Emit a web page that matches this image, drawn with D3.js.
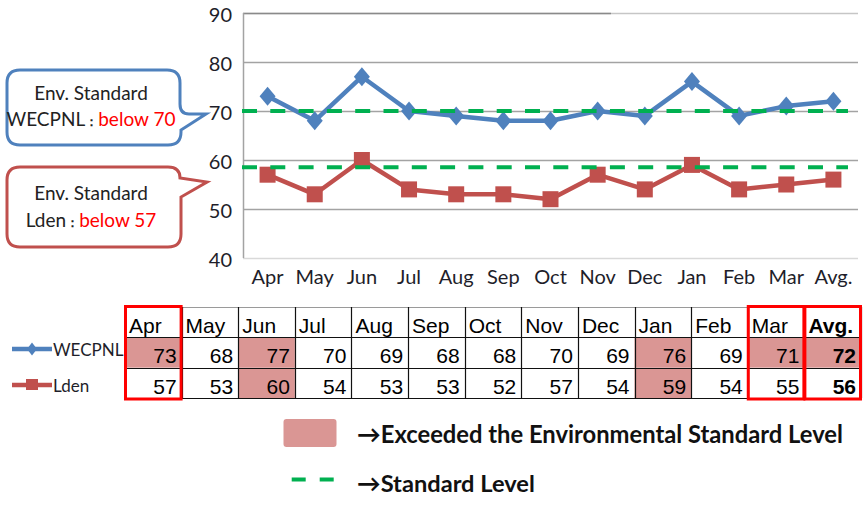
<!DOCTYPE html>
<html><head><meta charset="utf-8">
<script src="https://cdn.jsdelivr.net/npm/d3@7"></script>
<style>body{margin:0;background:#fff} svg{display:block}</style>
</head><body>
<svg id="c" width="864" height="510"></svg>
<script>
// ---- data ----
const months = ["Apr","May","Jun","Jul","Aug","Sep","Oct","Nov","Dec","Jan","Feb","Mar","Avg."];
const wecpnl = [73,68,77,70,69,68,68,70,69,76,69,71,72];
const lden   = [57,53,60,54,53,53,52,57,54,59,54,55,56];
const yTicks = [40,50,60,70,80,90];
const seriesNames = ["WECPNL","Lden"];
const envStandards = [70, 57];          // cells above these are shaded
const standardLines = [70, 58.5];       // green dashed lines as drawn in the chart
const outlinedCols = ["Apr","Mar","Avg."];
const legendTexts = ["\u2192Exceeded the Environmental Standard Level","\u2192Standard Level"];

// ---- styles ----
const BLUE = "#4F81BD", RED = "#C0504D", GREEN = "#00B050", PINK = "#DA9694";
const FONT = "Lato, 'Open Sans', sans-serif";
const TFONT = "'Liberation Sans', Arial, sans-serif";

const svg = d3.select("#c");
const x = d3.scaleBand().domain(months).range([244, 857]);
const y = d3.scaleLinear().domain([40, 90]).range([258, 13]);
const cx = m => x(m) + x.bandwidth() / 2;

// gridlines
const [x0, x1] = [243, 858];
svg.append("g").selectAll("line").data(yTicks).join("line")
  .attr("x1", x0).attr("x2", x1)
  .attr("y1", d => Math.round(y(d)) + 0.5).attr("y2", d => Math.round(y(d)) + 0.5)
  .attr("stroke", d => d === 40 ? "#d9d9d9" : (d === 90 ? "#c6c6c6" : "#a3a3a3"))
  .attr("stroke-width", 1.5);
svg.append("line").attr("x1", x0).attr("x2", 611)
  .attr("y1", Math.round(y(90)) + 0.5).attr("y2", Math.round(y(90)) + 0.5)
  .attr("stroke", "#8a8a8a").attr("stroke-width", 1.5);
svg.append("line").attr("x1", x0 + 0.5).attr("x2", x0 + 0.5)
  .attr("y1", y(90)).attr("y2", y(40)).attr("stroke", "#a3a3a3").attr("stroke-width", 1.5);

// y axis labels
const ya = svg.append("g").attr("transform", `translate(${x0},0)`)
  .call(d3.axisLeft(y).tickValues(yTicks).tickSize(0).tickPadding(11));
ya.select(".domain").remove();
ya.selectAll("text").attr("font-family", FONT).attr("font-size", 20).attr("fill", "#1e1e2a").attr("dy", "0.4em");

// x axis labels
const xa = svg.append("g").attr("transform", `translate(0,${y(40)})`)
  .call(d3.axisBottom(x).tickSize(0).tickPadding(9));
xa.select(".domain").remove();
xa.selectAll("text").attr("font-family", FONT).attr("font-size", 20).attr("fill", "#1e1e2a").attr("dy", "0.85em");

// series lines
const line = d3.line().x((d, i) => cx(months[i])).y(d => y(d));
svg.append("path").datum(wecpnl).attr("d", line).attr("fill", "none")
  .attr("stroke", BLUE).attr("stroke-width", 4.5).attr("stroke-linejoin", "round");
svg.append("path").datum(lden).attr("d", line).attr("fill", "none")
  .attr("stroke", RED).attr("stroke-width", 4.5).attr("stroke-linejoin", "round");

// markers
const diamond = (w, h) => `M0,${-h}L${w},0L0,${h}L${-w},0Z`;
svg.append("g").selectAll("path").data(wecpnl).join("path")
  .attr("d", diamond(8, 9.5))
  .attr("transform", (d, i) => `translate(${cx(months[i])},${y(d)})`)
  .attr("fill", BLUE);
svg.append("g").selectAll("rect").data(lden).join("rect")
  .attr("x", (d, i) => cx(months[i]) - 8).attr("y", d => y(d) - 8)
  .attr("width", 16).attr("height", 16).attr("fill", RED);

// standard level dashed lines
svg.append("g").selectAll("line").data(standardLines).join("line")
  .attr("x1", 242).attr("x2", 848)
  .attr("y1", d => y(d)).attr("y2", d => y(d))
  .attr("stroke", GREEN).attr("stroke-width", 4).attr("stroke-dasharray", "15,13.3");

// callouts
const callouts = [
  { color: BLUE, d: "M20,70H167Q180,70 180,83V104Q180,114 189,114L206,114L181,130V132Q181,145 168,145H20Q7,145 7,132V83Q7,70 20,70Z",
    y1: 100, y2: 126, name: seriesNames[0], val: envStandards[0] },
  { color: RED, d: "M20,167H168Q180,167 180,178L207,182L181,197V234Q181,247 168,247H20Q7,247 7,234V180Q7,167 20,167Z",
    y1: 200, y2: 227, name: seriesNames[1], val: envStandards[1] }
];
callouts.forEach(c => {
  svg.append("path").attr("d", c.d).attr("fill", "#fff").attr("stroke", c.color).attr("stroke-width", 3);
  svg.append("text").attr("x", 91).attr("y", c.y1).attr("text-anchor", "middle")
    .attr("font-family", FONT).attr("font-size", 19).attr("fill", "#222").text("Env. Standard");
  const t = svg.append("text").attr("x", 91).attr("y", c.y2).attr("text-anchor", "middle")
    .attr("font-family", FONT).attr("font-size", 19).attr("fill", "#222");
  t.append("tspan").text(c.name);
  t.append("tspan").attr("font-size", 13).attr("font-weight", "bold").text("\uFF1A");
  t.append("tspan").attr("fill", "#FF0000").text("below " + c.val);
});

// ---- table ----
const tx = d3.scaleBand().domain(months).range([125, 861]);
const ty = d3.scaleBand().domain(["head"].concat(seriesNames)).range([307, 398]);
const rows = [wecpnl, lden];
const tbl = svg.append("g");
// shaded cells
rows.forEach((vals, r) => {
  tbl.append("g").selectAll("rect").data(vals.map((v, i) => ({ v, m: months[i] })).filter(d => d.v > envStandards[r]))
    .join("rect")
    .attr("x", d => tx(d.m)).attr("y", ty(seriesNames[r]))
    .attr("width", tx.bandwidth()).attr("height", ty.bandwidth()).attr("fill", PINK);
});
// grid
tbl.append("line").attr("x1", tx.range()[0]).attr("x2", tx.range()[1])
  .attr("y1", ty.range()[0] + 0.5).attr("y2", ty.range()[0] + 0.5).attr("stroke", "#9a9a9a");
tbl.append("g").selectAll("line").data(seriesNames.map(s => ty(s)).concat([ty.range()[1]])).join("line")
  .attr("x1", tx.range()[0]).attr("x2", tx.range()[1])
  .attr("y1", d => Math.round(d) + 0.5).attr("y2", d => Math.round(d) + 0.5)
  .attr("stroke", "#111").attr("stroke-width", 1.2);
tbl.append("g").selectAll("line").data(months.map(m => tx(m)).concat([tx.range()[1]])).join("line")
  .attr("x1", d => Math.round(d) + 0.5).attr("x2", d => Math.round(d) + 0.5)
  .attr("y1", ty.range()[0]).attr("y2", ty.range()[1])
  .attr("stroke", "#111").attr("stroke-width", 1.2);
// header texts
tbl.append("g").selectAll("text").data(months).join("text")
  .attr("x", m => tx(m) + 4).attr("y", ty("head") + 26)
  .attr("font-family", TFONT).attr("font-size", 21)
  .attr("font-weight", m => m === "Avg." ? "bold" : "normal")
  .attr("fill", "#000").text(m => m);
// values
rows.forEach((vals, r) => {
  tbl.append("g").selectAll("text").data(vals).join("text")
    .attr("x", (d, i) => tx(months[i]) + tx.bandwidth() - 5)
    .attr("y", ty(seriesNames[r]) + 26)
    .attr("text-anchor", "end")
    .attr("font-family", TFONT).attr("font-size", 21)
    .attr("font-weight", (d, i) => months[i] === "Avg." ? "bold" : "normal")
    .attr("fill", "#000").text(d => d);
});
// red outlines
tbl.append("g").selectAll("rect").data(outlinedCols).join("rect")
  .attr("x", m => tx(m) + 0.5).attr("y", ty.range()[0] - 0.5)
  .attr("width", tx.bandwidth() - 1).attr("height", ty.range()[1] - ty.range()[0] + 1.5)
  .attr("fill", "none").attr("stroke", "#FF0000").attr("stroke-width", 3);

// table legend (left)
const lg = svg.append("g");
[[BLUE, 349], [RED, 385]].forEach(([col, yy], r) => {
  lg.append("line").attr("x1", 12).attr("x2", 52).attr("y1", yy).attr("y2", yy)
    .attr("stroke", col).attr("stroke-width", 4.5);
  if (r === 0) lg.append("path").attr("d", diamond(5, 6.5)).attr("transform", `translate(32,${yy})`).attr("fill", col);
  else lg.append("rect").attr("x", 26).attr("y", yy - 6).attr("width", 12).attr("height", 11).attr("fill", col);
  lg.append("text").attr("x", 53).attr("y", yy + 7).attr("font-family", FONT).attr("font-size", 17)
    .attr("fill", "#1e1e2a").text(seriesNames[r]);
});

// bottom legend
svg.append("rect").attr("x", 283.5).attr("y", 419).attr("width", 53).attr("height", 28).attr("rx", 3)
  .attr("fill", PINK);
svg.append("line").attr("x1", 291.7).attr("x2", 334).attr("y1", 479.5).attr("y2", 479.5)
  .attr("stroke", GREEN).attr("stroke-width", 4).attr("stroke-dasharray", "14,14");
const fitW = [486, 178];
[443, 492].forEach((yy, i) => {
  const t = svg.append("text").attr("x", 357).attr("y", yy).attr("font-family", FONT)
    .attr("font-weight", "bold").attr("font-size", 21).attr("fill", "#111").text(legendTexts[i]);
  const w = t.node().getComputedTextLength();
  t.attr("font-size", 21 * fitW[i] / w);
});
</script>
</body></html>
